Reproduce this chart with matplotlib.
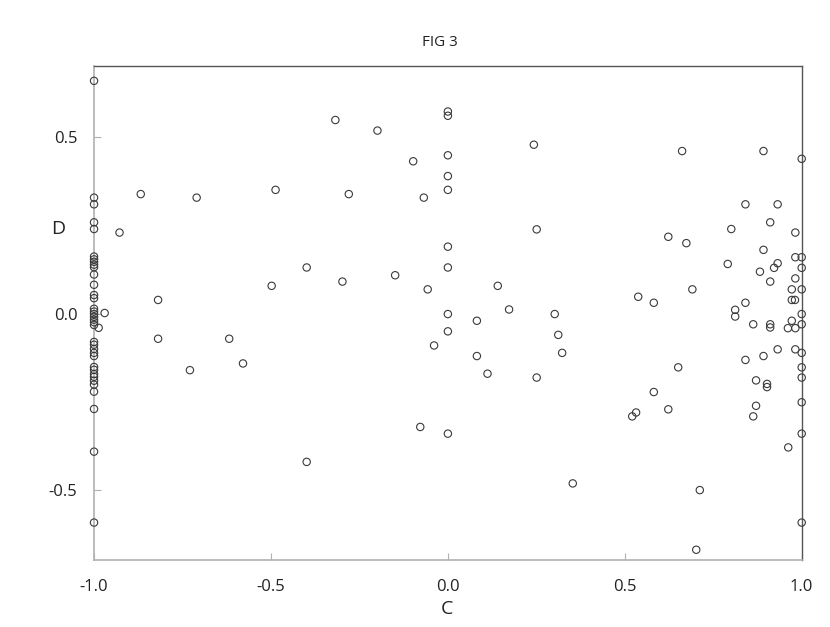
import numpy as np
import matplotlib
matplotlib.use("Agg")
import matplotlib.pyplot as plt

plt.rcParams["font.family"] = ["Open Sans", "DejaVu Sans"]

# C = -1.0 column
left_col_d = [0.660, 0.329, 0.310, 0.259, 0.240, 0.162, 0.154, 0.147, 0.139, 0.132,
              0.111, 0.082, 0.053, 0.044, 0.014, 0.006, -0.001, -0.009, -0.017, -0.024,
              -0.032, -0.080, -0.088, -0.100, -0.111, -0.120, -0.151, -0.159, -0.171,
              -0.179, -0.190, -0.201, -0.221, -0.270, -0.391, -0.592]

# C = 0.0 column
mid_col_d = [0.573, 0.561, 0.449, 0.390, 0.351, 0.190, 0.131, -0.001, -0.050, -0.340]

# C = 1.0 column
right_col_d = [0.439, 0.160, 0.130, 0.069, -0.001, -0.030, -0.111, -0.152, -0.181,
               -0.251, -0.340, -0.592]

# remaining points (C, D)
other_c = [-0.970, -0.987, -0.868, -0.928, -0.710, -0.487, -0.498, -0.819, -0.819,
           -0.618, -0.579, -0.729, -0.318, -0.199, -0.098, -0.280, -0.068, -0.399,
           -0.298, -0.149, -0.057, -0.039, -0.078, -0.399,
           0.243, 0.251, 0.141, 0.538, 0.173, 0.082, 0.302, 0.312, 0.323, 0.082,
           0.112, 0.251, 0.521, 0.532, 0.353,
           0.662, 0.892, 0.841, 0.932, 0.911, 0.801, 0.982, 0.623, 0.674, 0.892,
           0.982, 0.791, 0.932, 0.922, 0.882, 0.982, 0.911, 0.691, 0.972, 0.582,
           0.972, 0.981, 0.841, 0.812, 0.812, 0.972, 0.863, 0.911, 0.911, 0.961,
           0.982, 0.932, 0.982, 0.892, 0.841, 0.651, 0.871, 0.902, 0.902, 0.582,
           0.871, 0.623, 0.863, 0.962, 0.712, 0.702]
other_d = [0.002, -0.040, 0.339, 0.230, 0.329, 0.351, 0.079, 0.039, -0.071,
           -0.071, -0.141, -0.160, 0.549, 0.519, 0.432, 0.339, 0.329, 0.131,
           0.091, 0.109, 0.069, -0.090, -0.321, -0.420,
           0.479, 0.239, 0.079, 0.048, 0.012, -0.020, -0.001, -0.060, -0.111, -0.120,
           -0.170, -0.181, -0.291, -0.280, -0.481,
           0.461, 0.461, 0.310, 0.310, 0.259, 0.240, 0.230, 0.218, 0.200, 0.181,
           0.160, 0.141, 0.143, 0.130, 0.119, 0.100, 0.091, 0.069, 0.069, 0.031,
           0.039, 0.039, 0.031, 0.011, -0.008, -0.020, -0.030, -0.030, -0.039, -0.041,
           -0.041, -0.101, -0.101, -0.120, -0.131, -0.152, -0.189, -0.199, -0.208, -0.222,
           -0.261, -0.271, -0.291, -0.379, -0.500, -0.669]

c_vals = np.concatenate([np.full(len(left_col_d), -1.0), np.zeros(len(mid_col_d)),
                         np.full(len(right_col_d), 1.0), other_c])
d_vals = np.concatenate([left_col_d, mid_col_d, right_col_d, other_d])

fig = plt.figure(figsize=(8.3, 6.27), dpi=100)
ax = fig.add_axes([0.1133, 0.1069, 0.8526, 0.7878])

ax.scatter(c_vals, d_vals, s=28, facecolors="none", edgecolors="#3a3a3a",
           linewidths=0.8, clip_on=False, zorder=3)

ax.set_xlim(-1.0, 1.0)
ax.set_ylim(-0.698, 0.702)
ax.set_xticks([-1.0, -0.5, 0.0, 0.5, 1.0])
ax.set_yticks([-0.5, 0.0, 0.5])
ax.set_xticklabels(["-1.0", "-0.5", "0.0", "0.5", "1.0"])
ax.set_yticklabels(["-0.5", "0.0", "0.5"])
ax.tick_params(direction="in", length=5, width=0.8, color="#b0b0b0",
               labelsize=12, labelcolor="#222222")
ax.tick_params(axis="x", pad=14)
ax.tick_params(axis="y", pad=12)

for side in ["left", "bottom"]:
    ax.spines[side].set_color("#b0b0b0")
    ax.spines[side].set_linewidth(1.2)
for side in ["top", "right"]:
    ax.spines[side].set_color("#555555")
    ax.spines[side].set_linewidth(1.0)

ax.set_xlabel("C", fontsize=14, color="#222222")
ax.xaxis.set_label_coords(0.498, -0.082)
ax.set_ylabel("D", fontsize=14, rotation=0, color="#222222", va="center", ha="center")
ax.yaxis.set_label_coords(-0.051, 0.67)

fig.text(440 / 830, 1 - 42 / 627, "FIG 3", ha="center", va="center",
         fontsize=11, color="#222222")

fig.savefig("out.png", dpi=100)
